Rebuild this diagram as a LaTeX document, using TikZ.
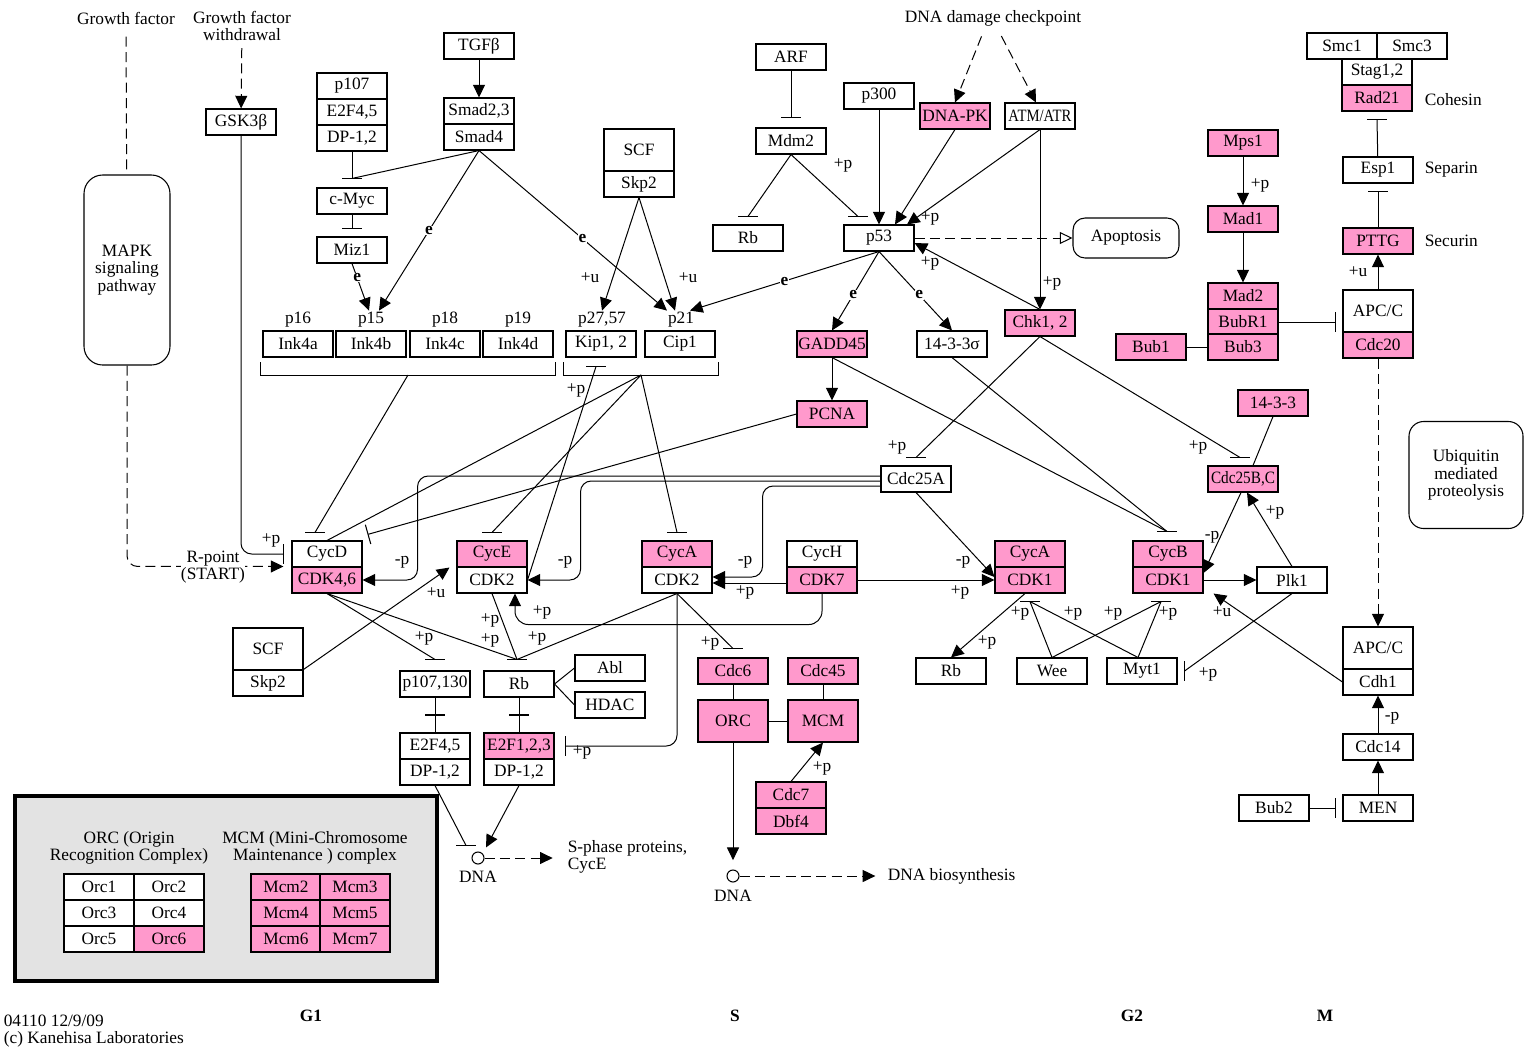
\documentclass[tikz,border=0pt]{standalone}
\usepackage{fontspec}
\setmainfont{Liberation Serif}
\usetikzlibrary{arrows.meta}

\definecolor{keggpink}{HTML}{FF99CC}
\definecolor{leggray}{HTML}{E3E3E3}
\newcommand{\kf}{\fontsize{13}{13}\selectfont}

\tikzset{
  gene/.style={draw, line width=0.8pt, fill=white, minimum width=52.5pt, minimum height=19.5pt, inner sep=0pt, font=\kf},
  pgene/.style={gene, fill=keggpink},
  tall/.style={minimum height=31.5pt},
  txt/.style={font=\kf, inner sep=1pt, align=center},
  elab/.style={font=\kf\bfseries, fill=white, inner sep=0.5pt},
  act/.style={-{Triangle[length=9.5pt,width=9pt]}},
  oact/.style={-{Triangle[open,length=9.5pt,width=9pt]}},
  inh/.style={-{Bar[width=15pt,line width=0.8pt]}},
  dsh/.style={dash pattern=on 7.5pt off 4pt},
  hb/.pic={\draw[-, solid, line width=0.8pt] (-10,0) -- (10,0);},
  vb/.pic={\draw[-, solid, line width=0.8pt] (0,-10) -- (0,10);},
}

\begin{document}
\begin{tikzpicture}[x=0.75pt, y=-0.75pt, line width=0.75pt]
\useasboundingbox (0,0) rectangle (1524,1050);

% legend
\draw[line width=3pt, fill=leggray] (15,796) rectangle (437,981);
\node[txt] (lORC) at (129,848) {ORC (Origin\\Recognition Complex)};
\node[txt] (lMCM) at (315,848) {MCM (Mini-Chromosome\\Maintenance ) complex};
\foreach \n/\c/\r in {1/0/0, 2/1/0, 3/0/1, 4/1/1, 5/0/2}
    \node[gene] (Orc\n) at ({99+70*\c},{887+26*\r}) {Orc\n};
\node[pgene] (Orc6) at (169,939) {Orc6};
\foreach \n/\c/\r in {2/0/0, 3/1/0, 4/0/1, 5/1/1, 6/0/2, 7/1/2}
    \node[pgene] (Mcm\n) at ({286+69*\c},{887+26*\r}) {Mcm\n};

% upstream
\node[txt] (gf) at (126,18) {Growth factor};
\node[txt] (gfw) at (242,26) {Growth factor\\withdrawal};
\node[txt] (ddc) at (993,18) {DNA damage checkpoint};
\node[draw, line width=0.8pt, rounded corners=14pt, minimum width=64.5pt, minimum height=142.5pt, txt] (MAPK) at (127,270) {MAPK\\signaling\\pathway};
\node[gene] (GSK) at (241,122) {GSK3β};
\node[gene] (p107) at (352,86) {p107};
\node[gene] (E2Fa) at (352,112) {E2F4,5};
\node[gene] (DPa) at (352,138) {DP-1,2};
\node[gene] (TGFb) at (479,46) {TGFβ};
\node[gene] (Smad23) at (479,111) {Smad2,3};
\node[gene] (Smad4) at (479,137) {Smad4};
\node[gene] (cMyc) at (352,201) {c-Myc};
\node[gene] (Miz1) at (352,250) {Miz1};
\node[gene, tall] (SCFa) at (639,150) {SCF};
\node[gene] (Skp2a) at (639,184) {Skp2};
\node[gene] (ARF) at (791,57) {ARF};
\node[gene] (Mdm2) at (791,141) {Mdm2};
\node[gene] (Rbu) at (748,238) {Rb};
\node[gene] (p300) at (879,96) {p300};
\node[gene] (p53) at (879,238) {p53};
\node[pgene] (DNAPK) at (955,116) {DNA-PK};
\node[gene] (ATM) at (1040,116) {\scalebox{0.85}[1]{ATM/ATR}};
\node[draw, line width=0.8pt, rounded corners=9pt, minimum width=79.5pt, minimum height=30pt, txt] (Apop) at (1126,238) {Apoptosis};
\node[pgene] (Chk) at (1040,323) {Chk1, 2};

% CKIs
\foreach \n/\x/\p in {Ink4a/298/p16, Ink4b/371/p15, Ink4c/445/p18, Ink4d/518/p19} {
    \node[gene] (\n) at (\x,344) {\n};
    \node[txt] (l\p) at (\x,320) {\p};
}
\node[gene] (Kip) at (601,344) {Kip1, 2};
\node[gene] (Cip) at (680,344) {Cip1};
\node[txt] (lp2757) at (602,320) {p27,57};
\node[txt] (lp21) at (681,320) {p21};
\draw (260,362) |- (555,375) -- (555,362);
\draw (563,362) |- (718,375) -- (718,362);
\coordinate (brInk) at (408,375);
\coordinate (brKip) at (641,375);

\node[pgene] (GADD) at (832,344) {GADD45};
\node[gene] (s1433) at (952,344) {14-3-3σ};
\node[pgene] (PCNA) at (832,414) {PCNA};

% spindle checkpoint / cohesin
\node[gene] (Smc1) at (1342,46) {Smc1};
\node[gene] (Smc3) at (1412,46) {Smc3};
\node[gene] (Stag) at (1377,72) {Stag1,2};
\node[pgene] (Rad21) at (1377,98) {Rad21};
\node[txt, anchor=west] (lCoh) at (1423,100) {Cohesin};
\node[gene] (Esp1) at (1378,170) {Esp1};
\node[txt, anchor=west] (lSep) at (1423,170) {Separin};
\node[pgene] (PTTG) at (1378,241) {PTTG};
\node[txt, anchor=west] (lSec) at (1423,241) {Securin};
\node[pgene] (Mps1) at (1243,143) {Mps1};
\node[pgene] (Mad1) at (1243,219) {Mad1};
\node[pgene] (Mad2) at (1243,296) {Mad2};
\node[pgene] (BubR1) at (1243,322) {BubR1};
\node[pgene] (Bub3) at (1243,347) {Bub3};
\node[pgene] (Bub1) at (1151,347) {Bub1};
\node[gene, tall] (APCa) at (1378,311) {APC/C};
\node[pgene] (Cdc20) at (1378,345) {Cdc20};
\node[pgene] (p1433) at (1273,403) {14-3-3};
\node[draw, line width=0.8pt, rounded corners=11pt, minimum width=85.5pt, minimum height=80.25pt, txt] (Ubiq) at (1466,475) {Ubiquitin\\mediated\\proteolysis};

% cyclin/CDK
\node[gene] (Cdc25A) at (916,479) {Cdc25A};
\node[pgene] (Cdc25BC) at (1243,479) {\scalebox{0.88}[1]{Cdc25B,C}};
\node[gene] (CycD) at (327,554) {CycD};
\node[pgene] (CDK46) at (327,580) {CDK4,6};
\node[pgene] (CycE) at (492,554) {CycE};
\node[gene] (CDK2e) at (492,580) {CDK2};
\node[pgene] (CycA) at (677,554) {CycA};
\node[gene] (CDK2a) at (677,580) {CDK2};
\node[gene] (CycH) at (822,554) {CycH};
\node[pgene] (CDK7) at (822,580) {CDK7};
\node[pgene] (CycA1) at (1030,554) {CycA};
\node[pgene] (CDK1a) at (1030,580) {CDK1};
\node[pgene] (CycB) at (1168,554) {CycB};
\node[pgene] (CDK1b) at (1168,580) {CDK1};
\node[gene] (Plk1) at (1292,580) {Plk1};

% G1/S
\node[gene, tall] (SCFb) at (268,649) {SCF};
\node[gene] (Skp2b) at (268,683) {Skp2};
\node[gene] (p107130) at (435,684) {p107,130};
\node[gene] (Rbl) at (519,684) {Rb};
\node[gene] (Abl) at (610,668) {Abl};
\node[gene] (HDAC) at (610,705) {HDAC};
\node[gene] (E2Fb) at (435,746) {E2F4,5};
\node[gene] (DPb) at (435,772) {DP-1,2};
\node[pgene] (E2Fc) at (519,746) {E2F1,2,3};
\node[gene] (DPc) at (519,772) {DP-1,2};
\node[circle, draw, line width=0.8pt, minimum size=9pt, inner sep=0pt] (DNA1) at (478,858) {};
\node[txt] (lDNA1) at (478,877) {DNA};
\node[txt, anchor=west, align=left] (Sph) at (566,857) {S-phase proteins,\\CycE};

% S
\node[pgene] (Cdc6) at (733,671) {Cdc6};
\node[pgene] (Cdc45) at (823,671) {Cdc45};
\node[pgene, tall] (ORC) at (733,721) {ORC};
\node[pgene, tall] (MCM) at (823,721) {MCM};
\node[pgene] (Cdc7) at (791,795) {Cdc7};
\node[pgene] (Dbf4) at (791,821) {Dbf4};
\node[circle, draw, line width=0.8pt, minimum size=9pt, inner sep=0pt] (DNA2) at (733,876) {};
\node[txt] (lDNA2) at (733,896) {DNA};
\node[txt, anchor=west] (DNAbio) at (886,876) {DNA biosynthesis};

% G2/M
\node[gene] (Rbr) at (951,671) {Rb};
\node[gene] (Wee) at (1052,671) {Wee};
\node[gene] (Myt1) at (1142,671) {Myt1};
\node[gene, tall] (APCb) at (1378,648) {APC/C};
\node[gene] (Cdh1) at (1378,682) {Cdh1};
\node[gene] (Cdc14) at (1378,747) {Cdc14};
\node[gene] (MEN) at (1378,808) {MEN};
\node[gene] (Bub2) at (1274,808) {Bub2};

% phases and footer
\foreach \p/\x in {G1/311, S/735, G2/1132, M/1325}
    \node[font=\kf\bfseries] (ph\p) at (\x,1016) {\p};
\node[txt, anchor=west, align=left] (foot) at (2,1031) {04110 12/9/09\\(c) Kanehisa Laboratories};

% --- connectors: upstream
\draw[dsh, shorten <=8pt] (gf) -- (MAPK);
\draw[act, dsh, shorten <=4pt] (gfw) -- (GSK);
\draw[act, dsh, rounded corners=8pt] (MAPK.south) |- ([xshift=-6pt]CDK46.north west);
\node[txt, fill=white, inner sep=0pt] (Rpt) at (213,567) {R-point\\(START)};
\draw[rounded corners=8pt] (GSK.south) |- ([xshift=-6pt]CycD.west) pic{vb};
\draw[act] (TGFb) -- (Smad23);
\draw (DPa) -- ([yshift=6.75pt]cMyc.north) pic{hb};
\draw (Smad4.south) -- ([yshift=6.75pt]cMyc.north);
\draw (cMyc) -- ([yshift=6pt]Miz1.north) pic{hb};
\draw[act] (Miz1.south) -- ([xshift=-1.5pt]lp15.north) node[elab, pos=0.3] {e};
\draw[act] (Smad4.south) -- ([xshift=6pt]lp15.north) node[elab, pos=0.5] {e};
\draw[act] (Smad4.south) -- ([xshift=-10.5pt]lp21.north) node[elab, pos=0.55] {e};
\draw[act] (Skp2a.south) -- (lp2757.north);
\draw[act] (Skp2a.south) -- ([xshift=-4.5pt]lp21.north);

% p53 branch
\draw (ARF) -- ([yshift=7.5pt]Mdm2.north) pic{hb};
\draw (Mdm2.south) -- ([yshift=6pt]Rbu.north) pic{hb};
\draw (Mdm2.south) -- ([xshift=-15.75pt,yshift=6pt]p53.north) pic{hb};
\draw[act] (p300) -- (p53);
\draw[act] (DNAPK.south) -- ([xshift=12pt]p53.north);
\draw[act] (ATM.south) -- ([xshift=21pt]p53.north);
\draw[act, dsh, shorten <=7pt] ([xshift=-6pt]ddc.south) -- (DNAPK.north);
\draw[act, dsh, shorten <=7pt] ([xshift=3pt]ddc.south) -- ([xshift=-3pt]ATM.north);
\draw[act] (ATM) -- (Chk);
\draw[oact, dsh] (p53) -- (Apop);
\draw[act] (Chk.north) -- ([yshift=-3.75pt]p53.east);
\draw[act] (p53.south) -- ([xshift=6.75pt]lp21.north) node[elab, pos=0.5] {e};
\draw[act] (p53.south) -- (GADD.north) node[elab, pos=0.55] {e};
\draw[act] (p53.south) -- (s1433.north) node[elab, pos=0.55] {e};
\draw[act] (GADD) -- (PCNA);

% spindle checkpoint
\draw (Esp1) -- ([yshift=-6pt]Rad21.south) pic{hb};
\draw (PTTG) -- ([yshift=-6pt]Esp1.south) pic{hb};
\draw[act] (APCa) -- (PTTG);
\draw[act] (Mps1) -- (Mad1);
\draw[act] (Mad1) -- (Mad2);
\draw (BubR1.east) -- ([xshift=-5.25pt]APCa.west |- BubR1.east) pic{vb};
\draw (Bub1) -- (Bub3);
\draw[act, dsh] (Cdc20) -- (APCb);

% Cdc25
\draw (p1433.south) -- ([xshift=7.5pt]Cdc25BC.north);
\draw (Chk.south) -- ([yshift=6pt]Cdc25A.north) pic{hb};
\draw (Chk.south) -- ([xshift=-2.25pt,yshift=6pt]Cdc25BC.north) pic{hb};
\draw (GADD.south) -- ([xshift=-0.75pt,yshift=6.75pt]CycB.north) pic{hb};
\draw (s1433.south) -- ([xshift=-0.75pt,yshift=6.75pt]CycB.north);
\draw[act, rounded corners=8pt] ([yshift=2.25pt]Cdc25A.west) -| ([xshift=41.25pt]CDK46.east) -- (CDK46.east);
\draw[act, rounded corners=8pt] ([yshift=-1.5pt]Cdc25A.west) -| ([xshift=39.75pt]CDK2e.east) -- (CDK2e.east);
\draw[act, rounded corners=8pt] ([yshift=-5.25pt]Cdc25A.west) -| ([xshift=37.5pt,yshift=2.25pt]CDK2a.east) -- ([yshift=2.25pt]CDK2a.east);
\draw[act] (Cdc25A.south) -- ([yshift=2.25pt]CDK1a.west);
\draw[act] ([xshift=-1.5pt]Cdc25BC.south) -- ([yshift=5.25pt]CDK1b.east);
\draw[act] (Plk1.north) -- ([xshift=3pt]Cdc25BC.south);
\draw[act] (CDK1b) -- (Plk1);
\draw[act] ([yshift=-2.25pt]CDK7.west) -- ([yshift=-2.25pt]CDK2a.east);
\draw[act] (CDK7) -- (CDK1a);
\draw[act, rounded corners=10pt] (CDK7.south) -- ++(0,31) -| ([xshift=17.25pt]CDK2e.south);

% CKI targets
\draw (brInk) -- ([xshift=-9pt,yshift=6pt]CycD.north) pic{hb};
\draw (brKip) -- (CycD.north);
\draw (brKip) -- ([yshift=6pt]CycE.north) pic{hb};
\draw (brKip) -- ([yshift=6pt]CycA.north) pic{hb};
\draw[inh] (PCNA.west) -- ([xshift=3.75pt,yshift=4.5pt]CycD.north east);
\draw (CDK2e.east) -- ([xshift=-3.75pt,yshift=-6.75pt]Kip.south) pic{hb};

% Rb / E2F
\draw (CDK46.south) -- ([yshift=8.25pt]p107130.north) pic{hb};
\draw (CDK46.south) -- ([xshift=-1.5pt,yshift=8.25pt]Rbl.north) pic{hb};
\draw (CDK2e.south) -- ([xshift=-1.5pt,yshift=8.25pt]Rbl.north);
\draw (CDK2a.south) -- ([xshift=-1.5pt,yshift=8.25pt]Rbl.north);
\draw[act] (Skp2b.north east) -- ([xshift=-5.25pt]CycE.south west);
\draw (Rbl.east) -- (Abl.west);
\draw (Rbl.east) -- (HDAC.west);
\draw (p107130) -- (E2Fb) coordinate[midway] (xb1);
\draw (Rbl) -- (E2Fc) coordinate[midway] (xb2);
\path (xb1) pic{hb} (xb2) pic{hb};
\draw[rounded corners=8pt] (CDK2a.south) |- ([xshift=8.25pt]E2Fc.east) pic{vb};
\draw (DPb.south) -- ([xshift=-9pt,yshift=4.5pt]DNA1.north) pic{hb};
\draw[act] (DPc.south) -- ([xshift=6pt,yshift=3pt]DNA1.north);
\draw[act, dsh, shorten >=10pt] (DNA1) -- (Sph.west |- DNA1);

% S phase
\draw (CDK2a.south) -- ([yshift=6.75pt]Cdc6.north) pic{hb};
\draw (Cdc6) -- (ORC);
\draw (Cdc45) -- (MCM);
\draw (ORC) -- (MCM);
\draw[act] (Cdc7.north) -- (MCM.south);
\draw[act, shorten >=7pt] (ORC) -- (DNA2);
\draw[act, dsh, shorten >=8pt] (DNA2) -- (DNAbio.west);

% G2/M
\draw[act] ([xshift=-3.75pt]CDK1a.south) -- (Rbr.north);
\draw (Wee.north) -- ([yshift=-6pt]CDK1a.south) pic{hb};
\draw (Wee.north) -- ([xshift=-5.25pt,yshift=-6pt]CDK1b.south) pic{hb};
\draw ([xshift=-3pt]Myt1.north) -- ([yshift=-6pt]CDK1a.south);
\draw ([xshift=-3pt]Myt1.north) -- ([xshift=-5.25pt,yshift=-6pt]CDK1b.south);
\draw (Plk1.south) -- ([xshift=5.25pt]Myt1.east) pic{vb};
\draw[act] (Cdh1.west) -- ([xshift=7.5pt]CDK1b.south east);
\draw[act] (Cdc14) -- (Cdh1);
\draw[act] (MEN) -- (Cdc14);
\draw (Bub2) -- ([xshift=-5.25pt]MEN.west) pic{vb};

% modification labels
\foreach \t/\x/\y in {+p/271/540, +p/843/165, +p/930/218, +p/930/263, +p/1052/283,
    +u/590/278, +u/688/278, +p/1260/185, +u/1358/272, +p/897/447, +p/1198/447,
    +p/576/390, -p/402/562, -p/565/562, -p/745/562, -p/963/562, +p/745/592,
    +p/960/592, -p/1212/537, +p/1275/512, +u/436/593, +p/542/612, +p/490/620,
    +p/490/640, +p/424/638, +p/537/638, +p/710/643, +p/582/752, +p/822/768,
    +p/987/642, +p/1020/613, +p/1073/613, +p/1113/613, +p/1168/613,
    +p/1208/674, +u/1222/612, -p/1392/718}
    \node[txt, inner sep=0pt] (m\x-\y) at (\x,\y) {\t};
\end{tikzpicture}
\end{document}
